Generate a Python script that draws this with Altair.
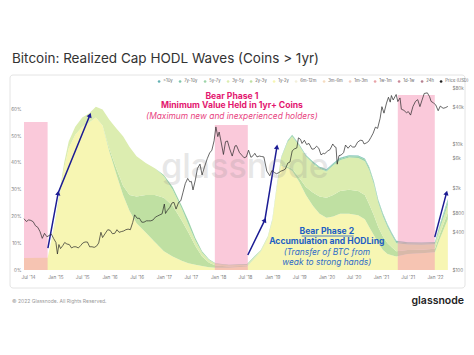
import altair as alt
import pandas as pd

FONT = "Inter"

# ---------------- data ----------------
band_dates = [
    "2014-06-04", "2014-11-10", "2014-12-01",
    "2015-01-01", "2015-02-01", "2015-03-01", "2015-04-01", "2015-05-15", "2015-07-01", "2015-08-15", "2015-10-01", "2015-11-15",
    "2016-01-01", "2016-02-15", "2016-04-01", "2016-05-15", "2016-07-01", "2016-09-01", "2016-11-01",
    "2017-01-01", "2017-03-01", "2017-05-01", "2017-06-15", "2017-08-01", "2017-09-15", "2017-11-01", "2017-12-15",
    "2018-03-15", "2018-07-15", "2018-09-01", "2018-10-15", "2018-12-01",
    "2019-01-01", "2019-02-01", "2019-03-01", "2019-04-15", "2019-05-15", "2019-07-01", "2019-08-15", "2019-10-01", "2019-11-15",
    "2020-01-01", "2020-02-15", "2020-04-01", "2020-06-01", "2020-08-01", "2020-09-15", "2020-10-15", "2020-11-15", "2020-12-15",
    "2021-01-15", "2021-02-15", "2021-03-15", "2021-04-15", "2021-07-01", "2021-10-01", "2021-12-31",
    "2022-02-01", "2022-03-28",
]
band_1y_2y = [4.5, 4.6, 9.5,
              18, 28.5, 38, 45.5, 50.5, 53.5, 55, 57, 54,
              44, 36, 28, 22, 17.5, 14, 10.5,
              7, 5, 3.5, 2.5, 2, 1.5, 1, 0.8,
              0.8, 1.3, 4.2, 6.8, 11.8,
              18.2, 31, 39, 38, 37, 33, 28, 24, 21,
              19.5, 20, 21, 21, 20.5, 19, 16, 13, 10,
              7.5, 6, 5.5, 5, 6, 6.3, 6.6,
              11.5, 19]
band_2y_3y = [0, 0, 0,
              0, 0, 0, 0, 0, 0, 0, 0, 0,
              1, 2, 3.5, 6, 10, 14, 17.5,
              20, 19, 15, 11.5, 7, 3.5, 1.7, 0.9,
              0.5, 0.3, 0.2, 0.2, 0.2,
              0.2, 0.2, 0.3, 0.6, 0.8, 1.5, 3, 5, 6.5,
              7.5, 8, 8.5, 9, 9, 9, 8.5, 7.5, 6,
              5, 4, 3, 2, 1.5, 1.3, 1.3,
              1.8, 2.5]
band_3y_5y = [0, 0, 0.5,
              1, 1.5, 2, 2.5, 3, 3.5, 3.5, 4, 6,
              11, 15, 18.5, 18, 15, 12, 10,
              8, 6, 4.5, 3, 2, 1.5, 1, 0.6,
              0.5, 0.4, 0.4, 0.4, 0.4,
              0.5, 0.7, 2.5, 9.3, 12.1, 11.9, 11.4, 10.8, 10.4,
              9.8, 11, 11.5, 12, 12.3, 12.6, 12.8, 11.5, 9,
              7.5, 6, 4.5, 3, 2, 1.8, 1.7,
              2.1, 2.8]
band_5y_7y = [0, 0, 0,
              0, 0, 0, 0, 0, 0, 0, 0, 0,
              0, 0, 0, 0, 0, 0, 0,
              0.5, 1, 1, 1.5, 1, 0.5, 0.3, 0.2,
              0.2, 0.2, 0.2, 0.1, 0.1,
              0.1, 0.1, 0.2, 0.4, 0.4, 0.4, 0.4, 0.4, 0.4,
              0.4, 0.5, 0.5, 0.5, 0.6, 0.7, 0.8, 0.8, 0.8,
              0.8, 0.7, 0.6, 0.5, 0.5, 0.5, 0.5,
              0.9, 1.4]
band_7y_10y = [0, 0, 0,
               0, 0, 0, 0, 0, 0, 0, 0, 0,
               0, 0, 0, 0, 0, 0, 0,
               0, 0, 0, 0, 0, 0, 0, 0,
               0, 0, 0, 0, 0,
               0.1, 0.1, 0.1, 0.2, 0.2, 0.2, 0.2, 0.3, 0.3,
               0.3, 0.3, 0.3, 0.3, 0.3, 0.3, 0.3, 0.3, 0.3,
               0.3, 0.3, 0.3, 0.3, 0.3, 0.3, 0.3,
               0.4, 0.6]
band_10y = [0, 0, 0,
            0, 0, 0, 0, 0, 0, 0, 0, 0,
            0, 0, 0, 0, 0, 0, 0,
            0, 0, 0, 0, 0, 0, 0, 0,
            0, 0, 0, 0, 0,
            0, 0, 0, 0, 0, 0, 0, 0, 0,
            0.1, 0.1, 0.1, 0.1, 0.1, 0.1, 0.1, 0.1, 0.1,
            0.1, 0.1, 0.1, 0.1, 0.1, 0.1, 0.1,
            0.1, 0.2]

band_names = ["1y-2y", "2y-3y", "3y-5y", "5y-7y", "7y-10y", ">10y"]
band_series = [band_1y_2y, band_2y_3y, band_3y_5y, band_5y_7y, band_7y_10y, band_10y]

legend_labels = [">10y", "7y-10y", "5y-7y", "3y-5y", "2y-3y", "1y-2y", "6m-12m",
                 "3m-6m", "1m-3m", "1w-1m", "1d-1w", "24h", "Price (USD)"]
legend_colors = ["#63b0b3", "#7fc6ad", "#9dd4a9", "#dcedb0", "#bfe0a2", "#f7f6b3", "#f3f0dc",
                 "#f6dcc0", "#f4cdbf", "#e8a3a8", "#c98796", "#b57f8f", "#222222"]

price_dates = [
    "2014-06-04", "2014-06-20", "2014-07-05", "2014-07-20", "2014-08-05", "2014-08-20", "2014-09-05", "2014-09-20",
    "2014-10-05", "2014-10-20", "2014-11-05", "2014-11-20", "2014-12-05", "2014-12-20",
    "2015-01-05", "2015-01-15", "2015-01-25", "2015-02-05", "2015-02-20", "2015-03-05", "2015-03-20", "2015-04-05",
    "2015-04-20", "2015-05-05", "2015-05-20", "2015-06-05", "2015-06-20", "2015-07-05", "2015-07-20", "2015-08-05",
    "2015-08-20", "2015-09-05", "2015-09-20", "2015-10-05", "2015-10-20", "2015-11-04", "2015-11-15", "2015-12-05",
    "2015-12-20",
    "2016-01-05", "2016-01-20", "2016-02-05", "2016-02-20", "2016-03-05", "2016-03-20", "2016-04-05", "2016-04-20",
    "2016-05-05", "2016-05-20", "2016-06-05", "2016-06-18", "2016-07-05", "2016-07-20", "2016-08-05", "2016-08-20",
    "2016-09-05", "2016-09-20", "2016-10-05", "2016-10-20", "2016-11-05", "2016-11-20", "2016-12-05", "2016-12-20",
    "2017-01-04", "2017-01-12", "2017-01-25", "2017-02-10", "2017-02-25", "2017-03-10", "2017-03-24", "2017-04-10",
    "2017-04-25", "2017-05-10", "2017-05-25", "2017-06-10", "2017-06-25", "2017-07-05", "2017-07-16", "2017-08-01",
    "2017-08-15", "2017-09-01", "2017-09-15", "2017-10-01", "2017-10-20", "2017-11-05", "2017-11-20", "2017-12-05",
    "2017-12-17", "2017-12-30",
    "2018-01-08", "2018-01-20", "2018-02-06", "2018-02-20", "2018-03-05", "2018-03-20", "2018-04-06", "2018-04-25",
    "2018-05-05", "2018-05-25", "2018-06-10", "2018-06-25", "2018-07-10", "2018-07-25", "2018-08-10", "2018-08-25",
    "2018-09-05", "2018-09-20", "2018-10-05", "2018-10-20", "2018-11-05", "2018-11-25", "2018-12-15", "2018-12-30",
    "2019-01-15", "2019-01-30", "2019-02-15", "2019-02-28", "2019-03-15", "2019-03-30", "2019-04-15", "2019-04-30",
    "2019-05-15", "2019-05-30", "2019-06-15", "2019-06-26", "2019-07-10", "2019-07-20", "2019-08-05", "2019-08-20",
    "2019-09-05", "2019-09-25", "2019-10-10", "2019-10-26", "2019-11-10", "2019-11-25", "2019-12-10", "2019-12-20",
    "2020-01-10", "2020-01-25", "2020-02-12", "2020-02-25", "2020-03-05", "2020-03-13", "2020-03-25", "2020-04-10",
    "2020-04-25", "2020-05-08", "2020-05-25", "2020-06-10", "2020-06-25", "2020-07-10", "2020-07-28", "2020-08-15",
    "2020-08-30", "2020-09-10", "2020-09-25", "2020-10-10", "2020-10-25", "2020-11-10", "2020-11-25", "2020-12-10",
    "2020-12-27",
    "2021-01-08", "2021-01-22", "2021-02-08", "2021-02-21", "2021-03-05", "2021-03-13", "2021-03-25", "2021-04-14",
    "2021-04-25", "2021-05-10", "2021-05-19", "2021-06-05", "2021-06-22", "2021-07-05", "2021-07-20", "2021-08-05",
    "2021-08-22", "2021-09-06", "2021-09-21", "2021-10-05", "2021-10-20", "2021-11-10", "2021-11-25", "2021-12-05",
    "2021-12-20",
    "2022-01-05", "2022-01-22", "2022-02-05", "2022-02-24", "2022-03-10", "2022-03-28",
]
price_usd = [
    660, 595, 630, 620, 590, 510, 480, 410, 320, 385, 340, 355, 375, 320,
    275, 180, 255, 220, 245, 275, 260, 255, 225, 235, 235, 225, 245, 270, 280, 280,
    235, 235, 230, 240, 270, 400, 330, 390, 440,
    430, 380, 385, 440, 400, 410, 420, 440, 450, 440, 575, 760, 670, 670, 580, 580,
    610, 610, 610, 630, 700, 730, 760, 790,
    1130, 800, 900, 1000, 1180, 1200, 940, 1200, 1280, 1750, 2400, 2900, 2550, 2600, 1900, 2750,
    4200, 4900, 3300, 4400, 6000, 7400, 8200, 11600, 19300, 13500,
    16000, 11500, 7000, 11200, 11500, 8600, 6600, 9600, 9700, 7500, 6800, 6200, 6400, 8200, 6300, 6700,
    7300, 6400, 6600, 6500, 6400, 3800, 3200, 3900,
    3600, 3450, 3600, 3800, 3900, 4100, 5100, 5300, 8000, 8600, 8900, 12900, 12200, 10500, 11800, 10100,
    10500, 8500, 8600, 9500, 8800, 6900, 7300, 7200,
    8000, 8400, 10300, 9300, 9100, 4900, 6700, 6900, 7500, 9900, 8800, 9800, 9200, 9200, 11000, 11800,
    11700, 10300, 10700, 11300, 13000, 15300, 19100, 18300, 26500,
    40600, 32000, 46400, 57400, 48000, 61200, 52000, 63500, 49000, 56000, 37000, 35500, 32500, 33800, 29800, 40800,
    49300, 52600, 40700, 51500, 66000, 67500, 58500, 49400, 46800,
    43500, 35000, 41500, 38300, 39000, 41000,
]

pink_start = ["2014-06-04", "2017-12-10", "2021-04-25"]
pink_end = ["2014-11-10", "2018-07-20", "2021-12-30"]
pink_top = [55.3, 54.2, 65.4]

arrow_id = ["a1", "a1", "a1", "a2", "a2", "a2", "a3", "a3"]
arrow_dates = ["2014-11-12", "2015-01-20", "2015-08-22", "2018-07-20", "2018-11-12", "2019-02-01", "2021-12-30", "2022-03-19"]
arrow_pct = [8.2, 28.8, 57.9, 5.6, 18.7, 46.0, 12.3, 28.8]
head_dates = ["2015-01-20", "2015-08-22", "2018-11-12", "2019-02-01", "2022-03-19"]
head_pct = [28.8, 57.9, 18.7, 46.0, 28.8]
head_angle = [10, 22, 26, 9, 15]

ann1_text = ["Bear Phase 1", "Minimum Value Held in 1yr+ Coins", "(Maximum new and inexperienced holders)"]
ann1_pct = [65.0, 61.5, 57.5]
ann1_style = ["bold", "bold", "italic"]
ann1_date = "2018-04-04"
ann2_text = ["Bear Phase 2", "Accumulation and HODLing", "(Transfer of BTC from", "weak to strong hands)"]
ann2_pct = [14.6, 10.65, 6.7, 3.0]
ann2_style = ["bold", "bold", "italic", "italic"]
ann2_date = "2020-01-03"

x_tick_dates = ["2014-07-01", "2015-01-01", "2015-07-01", "2016-01-01", "2016-07-01", "2017-01-01",
                "2017-07-01", "2018-01-01", "2018-07-01", "2019-01-01", "2019-07-01", "2020-01-01",
                "2020-07-01", "2021-01-01", "2021-07-01", "2022-01-01"]
price_ticks = [100, 400, 800, 2000, 6000, 10000, 40000, 80000]


def ms(s):
    return int(pd.Timestamp(s, tz="UTC").value // 10**6)


# ---------------- tables ----------------
rows = []
for i, d in enumerate(band_dates):
    for k, (nm, ser) in enumerate(zip(band_names, band_series)):
        rows.append({"date": d, "band": nm, "pct": ser[i] / 100.0, "ord": k})
bands_df = pd.DataFrame(rows)
price_df = pd.DataFrame({"date": price_dates, "price": price_usd})
pink_df = pd.DataFrame({"start": pink_start, "end": pink_end, "top": [p / 100 for p in pink_top]})
arrow_df = pd.DataFrame({"id": arrow_id, "date": arrow_dates, "pct": [p / 100 for p in arrow_pct],
                         "seq": list(range(len(arrow_id)))})
head_df = pd.DataFrame({"date": head_dates, "pct": [p / 100 for p in head_pct], "angle": head_angle})
ann1_df = pd.DataFrame({"date": ann1_date, "pct": [p / 100 for p in ann1_pct], "text": ann1_text, "style": ann1_style})
ann2_df = pd.DataFrame({"date": ann2_date, "pct": [p / 100 for p in ann2_pct], "text": ann2_text, "style": ann2_style})
ul_df = pd.DataFrame({"date": ["2019-07-18", "2020-07-02"], "pct": [0.127, 0.127]})

# ---------------- scales / axes ----------------
xscale = alt.Scale(type="utc", domain=[ms("2014-06-04"), ms("2022-03-29")], nice=False)
yscale = alt.Scale(domain=[0, 0.68], nice=False, zero=False)
xaxis = alt.Axis(values=[ms(d) for d in x_tick_dates], format="%b '%y", labelFontSize=4.6,
                 labelColor="#7a7a7a", ticks=False, domain=False, grid=False, labelPadding=4,
                 labelFlush=False, labelOverlap=False, labelSeparation=0, labelFont=FONT)
yaxis = alt.Axis(values=[0, 0.1, 0.2, 0.3, 0.4, 0.5, 0.6], format=".0%", labelFontSize=4.6,
                 labelColor="#7a7a7a", ticks=False, domain=False, grid=False, labelPadding=3,
                 labelFont=FONT)


def X(f="date:T"):
    return alt.X(f, scale=xscale, axis=xaxis, title=None)


def Y(f="pct:Q", **kw):
    return alt.Y(f, scale=yscale, axis=yaxis, title=None, **kw)


areas = alt.Chart(bands_df).mark_area(interpolate="linear", strokeWidth=0).encode(
    x=X(),
    y=Y(stack="zero"),
    color=alt.Color("band:N", scale=alt.Scale(domain=legend_labels, range=legend_colors),
                    legend=alt.Legend(orient="none", legendX=133, legendY=-9, direction="horizontal",
                                      title=None, labelFontSize=4.2, symbolSize=7, symbolType="circle",
                                      columnPadding=5, labelOffset=2, labelColor="#666", symbolStrokeWidth=0,
                                      padding=0, labelFont=FONT, labelLimit=60)),
    order=alt.Order("ord:Q"),
)

pink = alt.Chart(pink_df).mark_rect(color="#f48fb1", opacity=0.48).encode(
    x=X("start:T"), x2="end:T", y=Y("top:Q"), y2=alt.datum(0)
)

arrows = alt.Chart(arrow_df).mark_line(color="#1c1c94", strokeWidth=1.5).encode(
    x=X(), y=Y(), detail="id:N", order="seq:Q"
)
heads = alt.Chart(head_df).mark_point(shape="triangle-up", filled=True, color="#1c1c94", size=28, opacity=1).encode(
    x=X(), y=Y(), angle=alt.Angle("angle:Q", scale=None)
)

ann1_b = alt.Chart(ann1_df).transform_filter("datum.style == 'bold'").mark_text(
    font=FONT, fontSize=8.6, fontWeight="bold", color="#e3176f", align="center", baseline="middle"
).encode(x=X(), y=Y(), text="text:N")
ann1_i = alt.Chart(ann1_df).transform_filter("datum.style == 'italic'").mark_text(
    font=FONT, fontSize=8.4, fontStyle="italic", color="#e8447f", align="center", baseline="middle"
).encode(x=X(), y=Y(), text="text:N")
ann2_b = alt.Chart(ann2_df).transform_filter("datum.style == 'bold'").mark_text(
    font=FONT, fontSize=8.6, fontWeight="bold", color="#1e5fc4", align="center", baseline="middle"
).encode(x=X(), y=Y(), text="text:N")
ann2_i = alt.Chart(ann2_df).transform_filter("datum.style == 'italic'").mark_text(
    font=FONT, fontSize=8.4, fontStyle="italic", color="#2f6cc8", align="center", baseline="middle"
).encode(x=X(), y=Y(), text="text:N")
underline = alt.Chart(ul_df).mark_line(color="#1e5fc4", strokeWidth=0.8).encode(x=X(), y=Y())

left = alt.layer(areas, pink, arrows, heads, ann1_b, ann1_i, ann2_b, ann2_i, underline)

price = alt.Chart(price_df).mark_line(color="#262626", strokeWidth=0.7).encode(
    x=X(),
    y=alt.Y("price:Q", title=None,
            scale=alt.Scale(type="log", domain=[100, 80700], nice=False),
            axis=alt.Axis(orient="right", values=price_ticks,
                          labelExpr="datum.value >= 1000 ? '$' + format(datum.value / 1000, 'd') + 'k' : '$' + format(datum.value, 'd')",
                          labelFontSize=4.6, labelColor="#7a7a7a", ticks=False, domain=False, grid=False,
                          labelPadding=4, labelFont=FONT)),
)

one = pd.DataFrame({"t": ["x"]})
card = alt.Chart(one).mark_rect(fill="white", fillOpacity=0, stroke="#e4e4e4", strokeWidth=1, cornerRadius=3).encode(
    x=alt.value(-14), x2=alt.value(441), y=alt.value(-13), y2=alt.value(200)
)
title = alt.Chart(pd.DataFrame({"t": ["Bitcoin: Realized Cap HODL Waves (Coins > 1yr)"]})).mark_text(
    font=FONT, fontSize=13.5, color="#333333", align="left", baseline="middle"
).encode(x=alt.value(-12), y=alt.value(-29), text="t:N")
watermark = alt.Chart(pd.DataFrame({"t": ["glassnode"]})).mark_text(
    font=FONT, fontSize=34, fontWeight=500, color="#8a8a8a", opacity=0.2, align="center", baseline="middle"
).encode(x=alt.value(221), y=alt.value(80), text="t:N")
footer = alt.Chart(pd.DataFrame({"t": ["© 2022 Glassnode. All Rights Reserved."]})).mark_text(
    font=FONT, fontSize=5, color="#9a9a9a", align="left", baseline="middle"
).encode(x=alt.value(-12), y=alt.value(213), text="t:N")
logo = alt.Chart(pd.DataFrame({"t": ["glassnode"]})).mark_text(
    font=FONT, fontSize=10.5, fontWeight=600, color="#222222", align="right", baseline="middle"
).encode(x=alt.value(440), y=alt.value(213), text="t:N")

chart = alt.layer(card, left, watermark, price, title, footer, logo).resolve_scale(y="independent").properties(
    width=424, height=182,
    autosize=alt.AutoSizeParams(type="none"),
    padding={"left": 24, "top": 88, "right": 26, "bottom": 85},
    background="white",
).configure_view(stroke=None)

chart.save("out.html", embed_options={"renderer": "svg", "actions": False})
